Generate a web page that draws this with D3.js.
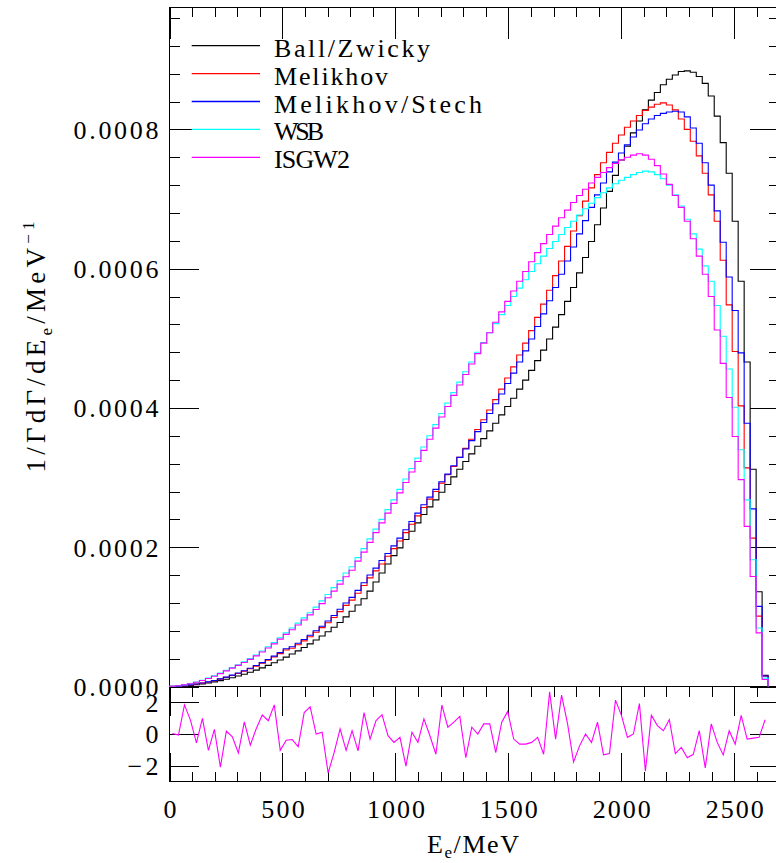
<!DOCTYPE html>
<html><head><meta charset="utf-8">
<script src="https://cdn.jsdelivr.net/npm/d3@7"></script>
<style>body{margin:0;background:#fff}svg{display:block}</style>
</head><body>
<svg id="c" width="776" height="863"></svg>
<script>
// Histogram definition: 100 bins from 0 to 2650 MeV
const binEdgeLow = 0, binEdgeHigh = 2650, nBins = 100;

const ballZwicky = [0.1e-6,0.4e-6,0.9e-6,1.6e-6,2.5e-6,3.6e-6,5.0e-6,6.6e-6,8.4e-6,10.4e-6,
12.6e-6,15.0e-6,17.6e-6,20.4e-6,23.5e-6,26.8e-6,30.3e-6,34.0e-6,38.0e-6,42.2e-6,
46.6e-6,51.2e-6,56.0e-6,61.2e-6,66.7e-6,72.5e-6,78.6e-6,85e-6,92e-6,100e-6,
108e-6,117e-6,126e-6,137e-6,150e-6,163e-6,176e-6,188e-6,199e-6,211e-6,
223e-6,235e-6,247e-6,258e-6,268e-6,279e-6,290e-6,301e-6,312e-6,323e-6,
334e-6,345e-6,356e-6,367e-6,378e-6,390e-6,402e-6,414e-6,427e-6,440e-6,
454e-6,468e-6,483e-6,499e-6,516e-6,534e-6,553e-6,573e-6,594e-6,616e-6,
639e-6,663e-6,687e-6,711e-6,734e-6,756e-6,776e-6,795e-6,812e-6,828e-6,
842e-6,853e-6,864e-6,872e-6,878e-6,883e-6,884e-6,882e-6,876e-6,866e-6,
848e-6,819e-6,781e-6,737e-6,668e-6,582e-6,466e-6,312e-6,136e-6,16e-6];

const melikhov = [0.2e-6,0.6e-6,1.3e-6,2.2e-6,3.4e-6,4.8e-6,6.5e-6,8.4e-6,10.6e-6,13.1e-6,
15.8e-6,18.7e-6,21.9e-6,25.4e-6,29.2e-6,33.3e-6,37.7e-6,42.3e-6,47.2e-6,52.5e-6,
55e-6,60e-6,65.5e-6,71.5e-6,78e-6,84.5e-6,91.5e-6,99e-6,107.5e-6,116.5e-6,
124e-6,134e-6,145e-6,156e-6,166e-6,176e-6,187e-6,198e-6,209e-6,221e-6,
233e-6,245e-6,257e-6,269e-6,280e-6,292e-6,304e-6,316e-6,329e-6,342e-6,
355e-6,369e-6,383e-6,397e-6,412e-6,427e-6,443e-6,459e-6,476e-6,493e-6,
511e-6,530e-6,549e-6,569e-6,590e-6,611e-6,632e-6,654e-6,676e-6,697e-6,
716e-6,735e-6,752e-6,767e-6,780e-6,792e-6,803e-6,812e-6,820e-6,827e-6,
832e-6,836e-6,838e-6,835e-6,828e-6,815e-6,800e-6,783e-6,762e-6,737e-6,
706e-6,668e-6,612e-6,548e-6,481e-6,403e-6,314e-6,213e-6,101e-6,15e-6];

const melikhovStech = [0.2e-6,0.6e-6,1.3e-6,2.3e-6,3.5e-6,5.0e-6,6.7e-6,8.7e-6,11.0e-6,13.5e-6,
16.3e-6,19.3e-6,22.6e-6,26.2e-6,30.1e-6,34.3e-6,38.8e-6,43.6e-6,48.7e-6,54.1e-6,
57e-6,62e-6,67.5e-6,73.5e-6,80e-6,86.5e-6,94e-6,102e-6,111e-6,120e-6,
128e-6,138e-6,149e-6,160e-6,170e-6,181e-6,191e-6,202e-6,213e-6,225e-6,
237e-6,249e-6,261e-6,272e-6,283e-6,294e-6,305e-6,317e-6,329e-6,341e-6,
353e-6,366e-6,379e-6,392e-6,406e-6,420e-6,435e-6,450e-6,466e-6,482e-6,
499e-6,517e-6,535e-6,554e-6,573e-6,592e-6,611e-6,631e-6,650e-6,669e-6,
688e-6,706e-6,723e-6,739e-6,753e-6,766e-6,778e-6,789e-6,799e-6,808e-6,
815e-6,820e-6,823e-6,825e-6,826e-6,825e-6,818e-6,802e-6,780e-6,752e-6,
720e-6,683e-6,638e-6,588e-6,540e-6,479e-6,378e-6,255e-6,115e-6,15e-6];

const wsb = [0.3e-6,1.1e-6,2.4e-6,4.2e-6,6.4e-6,9.0e-6,12.0e-6,15.4e-6,19.2e-6,23.3e-6,
27.3e-6,31.3e-6,35.6e-6,40.2e-6,45.3e-6,51e-6,57e-6,63e-6,70e-6,77e-6,
84e-6,91e-6,98.5e-6,106e-6,114e-6,123e-6,132e-6,142e-6,152e-6,163e-6,
172e-6,185e-6,198e-6,212e-6,226e-6,240e-6,254e-6,268e-6,283e-6,298e-6,
313e-6,328e-6,344e-6,360e-6,376e-6,392e-6,407e-6,422e-6,437e-6,452e-6,
466e-6,480e-6,494e-6,508e-6,521e-6,534e-6,547e-6,560e-6,572e-6,584e-6,
596e-6,607e-6,618e-6,629e-6,639e-6,649e-6,659e-6,668e-6,677e-6,686e-6,
694e-6,702e-6,709e-6,716e-6,722e-6,727e-6,731e-6,735e-6,738e-6,740e-6,
739e-6,735e-6,729e-6,720e-6,706e-6,690e-6,671e-6,650e-6,628e-6,604e-6,
582e-6,547e-6,503e-6,456e-6,401e-6,340e-6,268e-6,182e-6,84e-6,12e-6];

const isgw2 = [0.3e-6,1.0e-6,2.3e-6,4.0e-6,6.1e-6,8.6e-6,11.5e-6,14.8e-6,18.5e-6,22.5e-6,
26.4e-6,30.3e-6,34.5e-6,39e-6,44e-6,49.5e-6,55.3e-6,61.2e-6,68e-6,74.8e-6,
81.5e-6,88.3e-6,95.5e-6,102.8e-6,110.5e-6,119e-6,127.5e-6,137e-6,147e-6,157.5e-6,
167e-6,180e-6,193e-6,207e-6,221e-6,235e-6,249e-6,263e-6,278e-6,293e-6,
308e-6,323e-6,339e-6,355e-6,371e-6,387e-6,402e-6,418e-6,433e-6,448e-6,
463e-6,478e-6,493e-6,508e-6,523e-6,538e-6,553e-6,568e-6,582e-6,596e-6,
610e-6,623e-6,636e-6,649e-6,661e-6,673e-6,684e-6,695e-6,705e-6,714e-6,
723e-6,731e-6,738e-6,745e-6,751e-6,756e-6,760e-6,763e-6,765e-6,763e-6,
757e-6,748e-6,736e-6,721e-6,705e-6,688e-6,668e-6,643e-6,618e-6,592e-6,
560e-6,512e-6,464e-6,415e-6,359e-6,297e-6,230e-6,158e-6,77e-6,10e-6];

// residual (ISGW2 panel), one value per bin
const residual = [0.03,-0.07,1.84,0.88,-0.56,0.99,-1.03,0.29,-2.09,0.18,
-0.18,-1.2,0.77,-0.71,0.35,1.2,0.84,1.84,-1.03,-0.39,
-0.35,-0.81,1.35,1.71,0,0.11,-2.46,-1.18,0.32,-1.03,
0.21,-1.07,1.35,-0.32,0.85,1.22,-0.11,-0.53,-0.21,-2.03,
0.11,-0.53,0.96,-0.11,-1.28,1.82,0.43,0.75,1.11,-1.5,
0.43,0,0.64,0.64,-1.18,0.75,1.43,-0.32,-0.64,-0.64,
-0.53,-0.21,-1.28,2.67,-0.32,2.46,0.64,-1.77,-0.75,0,
-0.53,0.75,-1.32,-1.24,2.14,1.18,-0.21,0,1.92,-2.35,
1.18,0.53,0.21,0.9,-1.24,-0.85,-1.5,-1.28,0.21,-2.14,
0.64,-0.53,-1.32,0.21,-0.64,1.18,-0.32,-0.26,-0.21,0.9];

const seriesNames = ["Ball/Zwicky","Melikhov","Melikhov/Stech","WSB","ISGW2"];
const seriesColors = ["#000000","#ff0000","#0000ff","#00ffff","#ff00ff"];
const seriesData = [ballZwicky, melikhov, melikhovStech, wsb, isgw2];
const legendTextWidths = [156,114,208,50,76];

const xMajorTicks = [0,500,1000,1500,2000,2500];
const yMajorTicks = [0,0.0002,0.0004,0.0006,0.0008];
const resTicks = [-2,0,2];

// geometry
const L = 169.5, R = 779.4, T = 7.5, MB = 686.5, B = 781.5;
const FONT = "'Liberation Serif','Times New Roman',serif";
const ADJ = "spacing";

const svg = d3.select("#c");
const x = d3.scaleLinear().domain([0,2700]).range([L,R]);
const y = d3.scaleLinear().domain([0,0.000975]).range([MB,T]);
const yr = d3.scaleLinear().domain([-3,3]).range([B,MB]);

const binW = (binEdgeHigh-binEdgeLow)/nBins;
const edges = d3.range(nBins).map(i => binEdgeLow + i*binW);

const xMinor = d3.range(0,28).map(i=>i*100).filter(v=>v<=2700);
const yMinor = d3.range(0,25).map(i=>i*0.00004).filter(v=>v<=0.000975);

function tickGroup(axis, tx, ty){
  const g = svg.append("g").attr("transform",`translate(${tx},${ty})`).call(axis);
  g.select(".domain").remove();
  g.selectAll("line").attr("stroke","#000").attr("stroke-width",1).attr("shape-rendering","crispEdges");
  return g;
}
// main panel ticks
tickGroup(d3.axisBottom(x).tickValues(xMinor).tickSize(9).tickFormat(""),0,T);
tickGroup(d3.axisBottom(x).tickValues(xMajorTicks).tickSize(31).tickFormat(""),0,T);
tickGroup(d3.axisRight(y).tickValues(yMinor).tickSize(10).tickFormat(""),L,0);
tickGroup(d3.axisRight(y).tickValues(yMajorTicks).tickSize(29).tickFormat(""),L,0);
tickGroup(d3.axisLeft(y).tickValues(yMinor).tickSize(10).tickFormat(""),R,0);
tickGroup(d3.axisLeft(y).tickValues(yMajorTicks).tickSize(29).tickFormat(""),R,0);
// residual panel ticks
tickGroup(d3.axisBottom(x).tickValues(xMinor).tickSize(10).tickFormat(""),0,MB);
tickGroup(d3.axisBottom(x).tickValues(xMajorTicks).tickSize(29).tickFormat(""),0,MB);
tickGroup(d3.axisTop(x).tickValues(xMinor).tickSize(10).tickFormat(""),0,B);
tickGroup(d3.axisTop(x).tickValues(xMajorTicks).tickSize(29).tickFormat(""),0,B);
tickGroup(d3.axisRight(yr).tickValues(resTicks).tickSize(29).tickFormat(""),L,0);
tickGroup(d3.axisLeft(yr).tickValues(resTicks).tickSize(29).tickFormat(""),R,0);

// frame
svg.append("rect").attr("x",L).attr("y",T).attr("width",R-L).attr("height",B-T)
  .attr("fill","none").attr("stroke","#000").attr("shape-rendering","crispEdges");
svg.append("line").attr("x1",L).attr("x2",R).attr("y1",MB).attr("y2",MB)
  .attr("stroke","#000").attr("shape-rendering","crispEdges");

// tick labels
function styleLabels(g, widthFn){
  g.selectAll("text").attr("font-family",FONT).attr("font-size",26).attr("fill","#000")
   .each(function(d){ const w = widthFn(d); if(w) d3.select(this).attr("textLength",w).attr("lengthAdjust",ADJ); });
}
const gyl = tickGroup(d3.axisLeft(y).tickValues(yMajorTicks).tickSize(0).tickPadding(11).tickFormat(d3.format(".4f")),L,0);
styleLabels(gyl, d=>85); gyl.selectAll("text").attr("dy","0.34em");
const grl = tickGroup(d3.axisLeft(yr).tickValues(resTicks).tickSize(0).tickPadding(11).tickFormat(d3.format("d")),L,0);
styleLabels(grl, d=> d<0 ? 31 : null); grl.selectAll("text").attr("dy","0.34em");
const gxl = tickGroup(d3.axisBottom(x).tickValues(xMajorTicks).tickSize(0).tickPadding(18).tickFormat(d3.format("d")),0,B);
styleLabels(gxl, d=> String(d).length>1 ? String(d).length*14.5 : null);

// histograms
const line = d3.line().x(d=>x(d[0])).y(d=>y(d[1])).curve(d3.curveStepAfter);
seriesData.forEach((vals,k)=>{
  const pts = [[binEdgeLow,0]].concat(edges.map((e,i)=>[e,vals[i]])).concat([[binEdgeHigh,0]]);
  svg.append("path").attr("d",line(pts)).attr("fill","none")
    .attr("stroke",seriesColors[k]).attr("stroke-width",1.1);
});

// residual line
const rline = d3.line().x((d,i)=>x(edges[i]+binW/2)).y(d=>yr(d));
svg.append("path").attr("d",rline(residual)).attr("fill","none")
  .attr("stroke","#ff00ff").attr("stroke-width",1.1);

// legend
const lg = svg.append("g");
seriesNames.forEach((n,k)=>{
  const ly = 45.7 + k*27.9;
  lg.append("line").attr("x1",191.7).attr("x2",260).attr("y1",ly).attr("y2",ly)
    .attr("stroke",seriesColors[k]).attr("stroke-width",1.3);
  lg.append("text").attr("x",274).attr("y",ly+11).attr("font-family",FONT).attr("font-size",26)
    .attr("textLength",legendTextWidths[k]).attr("lengthAdjust",ADJ).text(n);
});

// axis titles
const xt = svg.append("text").attr("x",473).attr("y",853).attr("text-anchor","middle")
  .attr("font-family",FONT).attr("font-size",26).attr("textLength",92).attr("lengthAdjust",ADJ);
xt.append("tspan").text("E");
xt.append("tspan").attr("font-size",17).attr("dy",5).text("e");
xt.append("tspan").attr("dy",-5).text("/MeV");

const yt = svg.append("text").attr("transform","translate(45,347) rotate(-90)").attr("text-anchor","middle")
  .attr("font-family",FONT).attr("font-size",27).attr("textLength",251).attr("lengthAdjust",ADJ);
yt.append("tspan").text("1/ΓdΓ/dE");
yt.append("tspan").attr("font-size",17).attr("dy",7).text("e");
yt.append("tspan").attr("dy",-7).text("/MeV");
yt.append("tspan").attr("font-size",17).attr("dy",-11).text("−1");
</script>
</body></html>
